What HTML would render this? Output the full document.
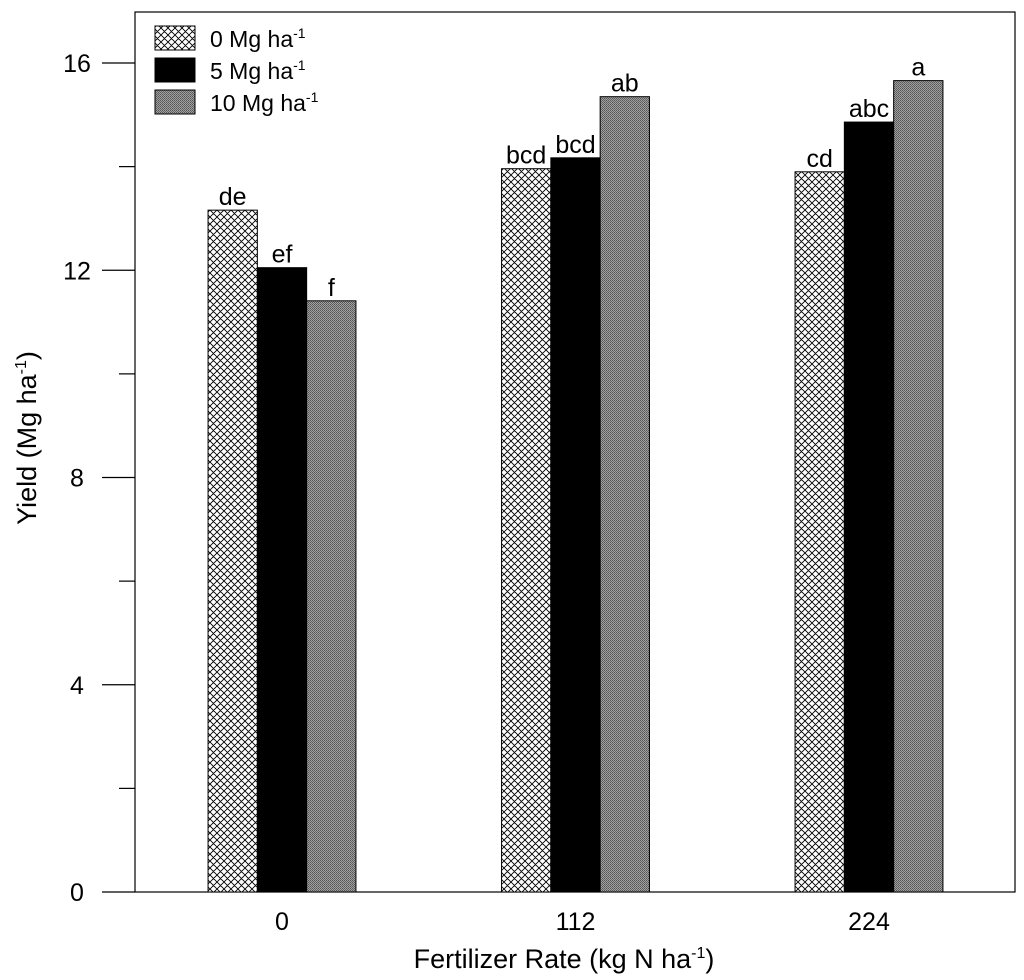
<!DOCTYPE html>
<html><head><meta charset="utf-8"><style>
body{margin:0;background:#fff}
svg{display:block;font-family:"Liberation Sans",Arial,sans-serif}
</style></head><body>
<svg id="chart" width="1024" height="980" viewBox="0 0 1024 980">
<defs>
<pattern id="hatch" width="7" height="7" patternUnits="userSpaceOnUse">
<rect width="7" height="7" fill="#fff"/>
<path d="M0,0L7,7M7,0L0,7M-1,6L1,8M6,-1L8,1M-1,1L1,-1M6,8L8,6" stroke="#000" stroke-width="0.9"/>
</pattern>
<pattern id="dots" width="2" height="2" patternUnits="userSpaceOnUse">
<rect width="2" height="2" fill="#a0a0a0"/>
<rect width="1" height="1" fill="#555"/>
<rect x="1" y="1" width="1" height="1" fill="#666"/>
</pattern>
</defs>
<rect x="135" y="12" width="880" height="880" fill="none" stroke="#000" stroke-width="1.2"/>
<g id="bars"></g>
<g id="axes"></g>
<g>
<rect x="155" y="26" width="40" height="24" fill="url(#hatch)" stroke="#000"/>
<text x="210" y="47" font-size="23">0 Mg ha<tspan font-size="14" dy="-9">-1</tspan></text>
<rect x="155" y="58" width="40" height="24" fill="#000" stroke="#000"/>
<text x="210" y="79" font-size="23">5 Mg ha<tspan font-size="14" dy="-9">-1</tspan></text>
<rect x="155" y="90" width="40" height="24" fill="url(#dots)" stroke="#000"/>
<text x="210" y="111" font-size="23">10 Mg ha<tspan font-size="14" dy="-9">-1</tspan></text>
</g>
<text transform="translate(36,438) rotate(-90)" text-anchor="middle" font-size="27">Yield (Mg ha<tspan font-size="16" dy="-10">-1</tspan><tspan dy="10">)</tspan></text>
<text x="564" y="968" text-anchor="middle" font-size="27">Fertilizer Rate (kg N ha<tspan font-size="16" dy="-10">-1</tspan><tspan dy="10">)</tspan></text>
</svg>
<script>
const categories = ["0", "112", "224"];
const series0 = [13.16, 13.96, 13.90];
const series5 = [12.05, 14.17, 14.86];
const series10 = [11.41, 15.35, 15.66];
const labels0 = ["de", "bcd", "cd"];
const labels5 = ["ef", "bcd", "abc"];
const labels10 = ["f", "ab", "a"];
const yTicks = [0, 4, 8, 12, 16];
const yMinor = [2, 6, 10, 14];

const NS = "http://www.w3.org/2000/svg";
const y0 = 892, pxPerUnit = 51.8125;
function yScale(v){ return y0 - v * pxPerUnit; }
const groupCenters = [282, 575, 869];
function xGroup(i){ return groupCenters[0] + i * ((groupCenters[2]-groupCenters[0])/2); }
const barW = 49.3;
const seriesList = [series0, series5, series10];
const labelList = [labels0, labels5, labels10];
const fills = ["url(#hatch)", "#000", "url(#dots)"];
const bars = document.getElementById("bars");
const axes = document.getElementById("axes");
function mk(tag, attrs, parent){
  const e = document.createElementNS(NS, tag);
  for (const k in attrs) e.setAttribute(k, attrs[k]);
  parent.appendChild(e);
  return e;
}
categories.forEach((c, i) => {
  const cx = xGroup(i);
  seriesList.forEach((s, j) => {
    const x = cx - 1.5 * barW + j * barW;
    const yt = yScale(s[i]);
    const r = mk("rect", {x: x, y: yt, width: barW, height: y0 - yt, fill: fills[j], stroke: "#000", "stroke-width": 1}, bars);
    
    
    const t = mk("text", {x: x + barW/2, y: yt - 5, "text-anchor": "middle", "font-size": 25}, bars);
    t.textContent = labelList[j][i];
    
    
  });
  const xl = mk("text", {x: cx, y: 930, "text-anchor": "middle", "font-size": 25}, axes);
  xl.textContent = c;
  
  
});
yTicks.forEach(v => {
  const y = yScale(v);
  const l = mk("line", {x1: 102, x2: 135, y1: y, y2: y, stroke: "#000", "stroke-width": 1.2}, axes);
  
  
  const t = mk("text", {x: 77, y: y + 9, "text-anchor": "middle", "font-size": 25}, axes);
  t.textContent = v;
  
  
});
yMinor.forEach(v => {
  const y = yScale(v);
  const l = mk("line", {x1: 119, x2: 135, y1: y, y2: y, stroke: "#000", "stroke-width": 1.2}, axes);
  
  
});
</script>
</body></html>
